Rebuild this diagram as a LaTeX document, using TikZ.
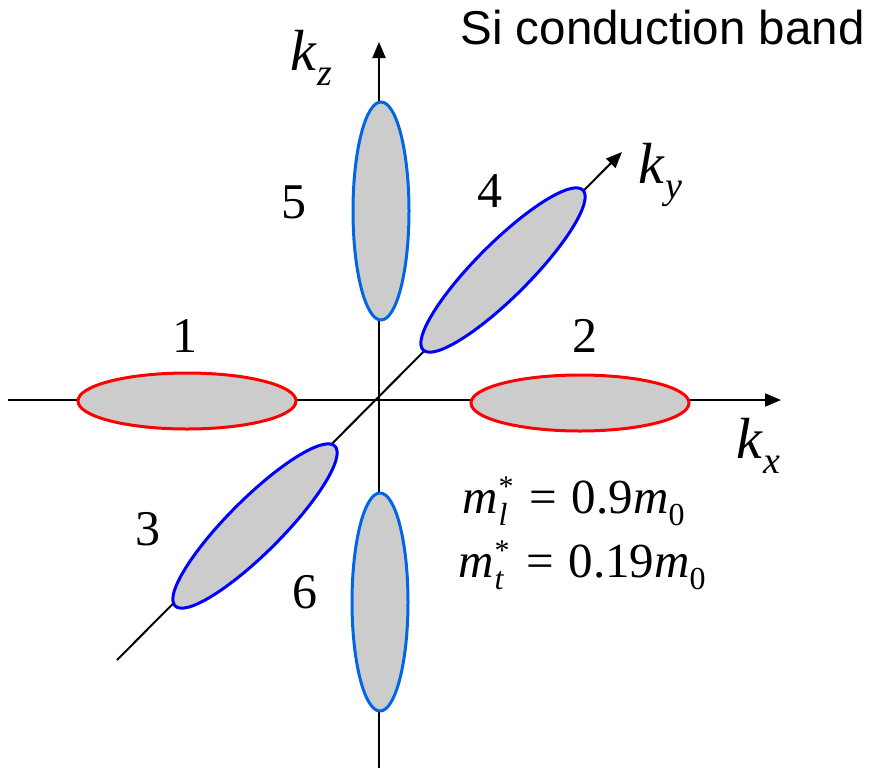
\documentclass[tikz,border=0pt]{standalone}
\usepackage{fontspec}
\setmainfont{Liberation Serif}
\newfontfamily\titlefont{Liberation Sans}
\usepackage{tikz}
\usetikzlibrary{shapes.geometric,arrows.meta,positioning,calc}
\definecolor{valleyred}{RGB}{255,0,0}
\definecolor{valleyblue}{RGB}{0,102,230}
\definecolor{valleydeep}{RGB}{0,0,255}
\definecolor{valleygray}{RGB}{204,204,204}
% vector de onda con subíndice
\newcommand{\kvec}[1]{\textit{k}\raisebox{-0.26em}{\fontsize{38}{38}\selectfont\textit{#1}}}
% masa efectiva: subíndice y asterisco apilados
\newcommand{\effmass}[2]{\textit{m}\kern1pt\rlap{\raisebox{17pt}{\fontsize{30}{30}\selectfont *}}\raisebox{-0.26em}{\fontsize{32}{32}\selectfont\textit{#1}}\hspace{0.45em}=\hspace{0.3em}#2\textit{m}\raisebox{-0.26em}{\fontsize{32}{32}\selectfont 0}}
\tikzset{
    valley/.style={
        ellipse,                  % forma básica: elipse
        draw=#1,                  % borde con el color del valle
        fill=valleygray,          % relleno gris claro
        line width=3pt,           % borde grueso
        inner sep=0pt             % sin margen interior
    },
    longvalley/.style={
        valley=#1,
        minimum width=218pt,      % eje mayor
        minimum height=56pt       % eje menor
    },
    axisline/.style={
        line width=2pt,           % ejes más finos que los bordes
        -{Triangle[length=16pt,width=13pt]}
    },
    numlabel/.style={
        anchor=base,              % alineado por la línea base
        font=\fontsize{50}{60}\selectfont
    },
    klabel/.style={
        anchor=base west,
        font=\fontsize{58}{68}\selectfont
    },
    masslabel/.style={
        anchor=base west,
        inner sep=0pt,
        font=\fontsize{49}{59}\selectfont
    }
}

\begin{document}
\begin{tikzpicture}[x=1pt,y=-1pt]
			\useasboundingbox (0,0) rectangle (869,769);
			% ejes
			\coordinate (origen) at (379,400);
			\coordinate (xmin) at (8,400);
			\coordinate (xmax) at (781,400);
			\coordinate (zmin) at (379,768);
			\coordinate (zmax) at (379,42);
			\coordinate (ymin) at (117,660);
			\coordinate (ymax) at (622,152);
			\draw[axisline] (xmin) -- (xmax);
			\draw[axisline] (zmin) -- (zmax);
			\draw[axisline] (ymin) -- (ymax);
			% valles
			\node[longvalley=valleyred] (valle1) at (187,401) {};
			\node[longvalley=valleyred] (valle2) at (580,403) {};
			\node[longvalley=valleyblue, rotate=90] (valle5) at (381,211) {};
			\node[longvalley=valleyblue, rotate=90] (valle6) at (380,602) {};
			\node[valley=valleydeep, minimum width=226pt, minimum height=54pt, rotate=45] (valle4) at (503,270) {};
			\node[valley=valleydeep, minimum width=226pt, minimum height=54pt, rotate=45] (valle3) at (255,526) {};
			% etiquetas
			\node[numlabel] (n1) at (185,352) {1};
			\node[numlabel] (n2) at (585,352) {2};
			\node[numlabel] (n3) at (148,545) {3};
			\node[numlabel] (n4) at (490,207) {4};
			\node[numlabel] (n5) at (294,218) {5};
			\node[numlabel] (n6) at (305,608) {6};
			\node[klabel] (kz) at (287,70) {\kvec{z}};
			\node[klabel] (ky) at (635,183) {\kvec{y}};
			\node[klabel] (kx) at (733,458) {\kvec{x}};
			\node[masslabel] (ml) at (462,513) {\effmass{l}{0.9}};
			\node[masslabel] (mt) at (458,577) {\effmass{t}{0.19}};
			\node[anchor=base west, font=\titlefont\fontsize{47.5}{56}\selectfont] (titulo) at (457,44) {Si conduction band};
		\end{tikzpicture}
\end{document}
